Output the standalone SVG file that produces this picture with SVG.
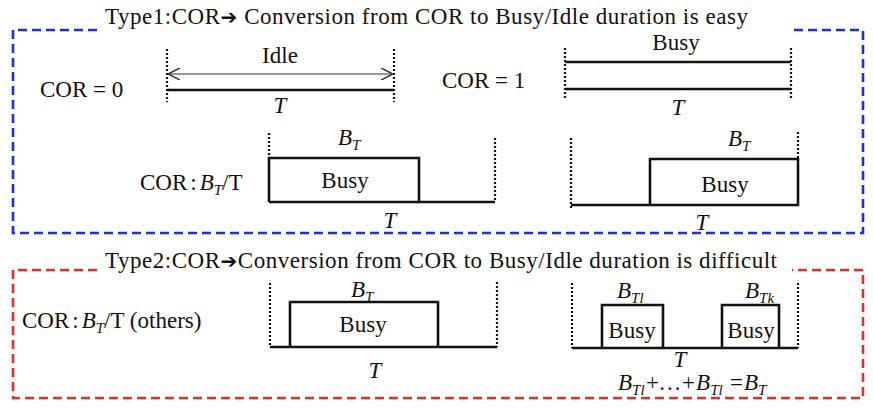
<svg xmlns="http://www.w3.org/2000/svg" width="873" height="411" viewBox="0 0 873 411">
<style>
text{font-family:"Liberation Serif","Times New Roman","DejaVu Serif",serif;fill:#111}
.t{font-size:23px}
.ti{font-size:23px;font-style:italic}
.sub{font-size:15px;font-style:italic}
.arr{font-family:"DejaVu Sans",sans-serif;font-size:20px;font-weight:bold}
.dot{stroke:#111;stroke-width:2.2;stroke-dasharray:2 2;fill:none}
.thick{stroke:#111;stroke-width:2.6;fill:none}
.thin{stroke:#333;stroke-width:1.2;fill:none}
.blue{stroke:#1c2cf0;stroke-width:2.6;stroke-dasharray:9 5;fill:none}
.red{stroke:#f02828;stroke-width:2.6;stroke-dasharray:9 5;fill:none}
</style>
<defs>
<marker id="oa" viewBox="0 0 10 10" refX="10" refY="5" markerWidth="12" markerHeight="12" markerUnits="userSpaceOnUse" orient="auto-start-reverse">
<path d="M0,0 L10,5 L0,10" fill="none" stroke="#333" stroke-width="1.3"/>
</marker>
</defs>
<rect width="873" height="411" fill="#fff"/>

<g id="frames">
<path class="blue" d="M97,30 H13 V233 H863 V30 H792"/>
<path class="red" d="M97,270 H13 V398 H863 V270 H792"/>
</g>
<g id="titles" font-family="Liberation Serif, serif">
<text class="t" x="105" y="24" textLength="643" font-size="23">Type1:COR<tspan class="arr">➔</tspan> Conversion from COR to Busy/Idle duration is easy</text>
<text class="t" x="105" y="268" textLength="672" font-size="23">Type2:COR<tspan class="arr">➔</tspan>Conversion from COR to Busy/Idle duration is difficult</text>
</g>

<g id="cor0" font-family="Liberation Serif, serif">
<text class="t" x="40" y="97">COR = 0</text>
<line class="dot" x1="167" y1="49" x2="167" y2="102"/>
<line class="dot" x1="394" y1="49" x2="394" y2="102"/>
<line class="thin" x1="168" y1="74" x2="393" y2="74" marker-start="url(#oa)" marker-end="url(#oa)"/>
<line class="thick" x1="167" y1="90" x2="394" y2="90"/>
<text class="t" x="280" y="63" text-anchor="middle">Idle</text>
<text class="ti" x="280" y="113" text-anchor="middle">T</text>
</g>

<g id="cor1" font-family="Liberation Serif, serif">
<text class="t" x="442" y="88">COR = 1</text>
<line class="dot" x1="565" y1="48" x2="565" y2="100"/>
<line class="dot" x1="791" y1="48" x2="791" y2="100"/>
<line class="thick" x1="565" y1="62" x2="791" y2="62"/>
<line class="thick" x1="565" y1="89" x2="791" y2="89"/>
<text class="t" x="676" y="50" text-anchor="middle">Busy</text>
<text class="ti" x="678" y="115" text-anchor="middle">T</text>
</g>

<g id="corbt1" font-family="Liberation Serif, serif">
<text class="t" x="140" y="190">COR<tspan dx="3">:</tspan><tspan class="ti" dx="3">B</tspan><tspan class="sub" dy="5">T</tspan><tspan dy="-5">/T</tspan></text>
<line class="dot" x1="269" y1="133" x2="269" y2="157"/>
<path class="thick" d="M269,202 V158 H419 V202 H495"/>
<line class="thick" x1="269" y1="202" x2="419" y2="202"/>
<line class="dot" x1="495" y1="138" x2="495" y2="202"/>
<text class="ti" x="338" y="145">B<tspan class="sub" dy="5">T</tspan></text>
<text class="t" x="345" y="188" text-anchor="middle">Busy</text>
<text class="ti" x="390" y="228" text-anchor="middle">T</text>
</g>

<g id="corbt2" font-family="Liberation Serif, serif">
<line class="dot" x1="571" y1="138" x2="571" y2="210"/>
<path class="thick" d="M571,205 H650 V159 H798 V205 H650"/>
<line class="dot" x1="798" y1="132" x2="798" y2="158"/>
<text class="ti" x="728" y="146">B<tspan class="sub" dy="5">T</tspan></text>
<text class="t" x="725" y="192" text-anchor="middle">Busy</text>
<text class="ti" x="702" y="230" text-anchor="middle">T</text>
</g>

<g id="others1" font-family="Liberation Serif, serif">
<text class="t" x="22" y="328">COR<tspan dx="3">:</tspan><tspan class="ti" dx="3">B</tspan><tspan class="sub" dy="5">T</tspan><tspan dy="-5">/T (others)</tspan></text>
<line class="dot" x1="270" y1="283" x2="270" y2="347"/>
<path class="thick" d="M270,347 H497 M290,347 V302 H438 V347"/>
<line class="dot" x1="497" y1="282" x2="497" y2="347"/>
<text class="ti" x="351" y="297">B<tspan class="sub" dy="5">T</tspan></text>
<text class="t" x="363" y="332" text-anchor="middle">Busy</text>
<text class="ti" x="375" y="378" text-anchor="middle">T</text>
</g>

<g id="others2" font-family="Liberation Serif, serif">
<line class="dot" x1="572" y1="283" x2="572" y2="348"/>
<path class="thick" d="M572,348 H798 M602,348 V305 H663 V348 M722,348 V305 H779 V348"/>
<line class="dot" x1="798" y1="283" x2="798" y2="348"/>
<text class="ti" x="617" y="298">B<tspan class="sub" dy="5">Tl</tspan></text>
<text class="ti" x="745" y="298">B<tspan class="sub" dy="5">Tk</tspan></text>
<text class="t" x="632" y="338" text-anchor="middle">Busy</text>
<text class="t" x="751" y="338" text-anchor="middle">Busy</text>
<text class="ti" x="680" y="367" text-anchor="middle">T</text>
<text class="ti" x="618" y="390">B<tspan class="sub" dy="5">Tl</tspan><tspan dy="-5">+…+B</tspan><tspan class="sub" dy="5">Tl</tspan><tspan dy="-5"> =B</tspan><tspan class="sub" dy="5">T</tspan></text>
</g>
</svg>
